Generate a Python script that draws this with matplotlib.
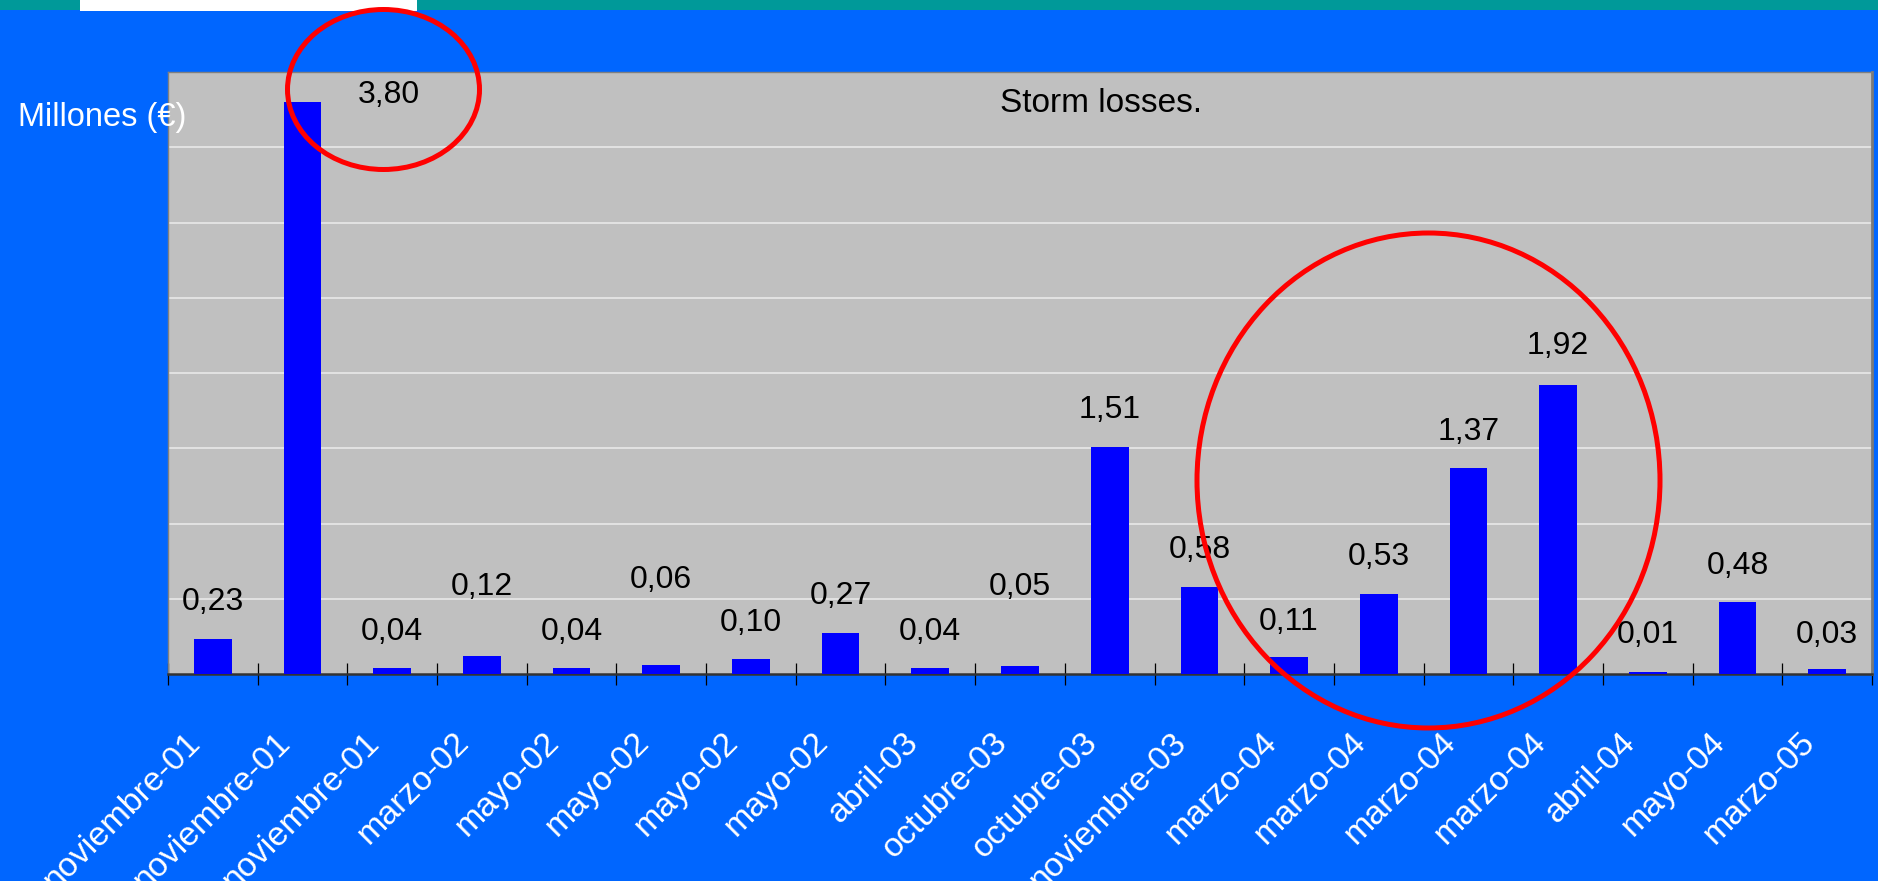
import matplotlib
matplotlib.use("Agg")
import matplotlib.pyplot as plt
import matplotlib.transforms as mtransforms
from matplotlib.patches import Ellipse, Rectangle

# storm losses per event, millions of euros
months = ["noviembre-01", "noviembre-01", "noviembre-01", "marzo-02", "mayo-02",
          "mayo-02", "mayo-02", "mayo-02", "abril-03", "octubre-03", "octubre-03",
          "noviembre-03", "marzo-04", "marzo-04", "marzo-04", "marzo-04",
          "abril-04", "mayo-04", "marzo-05"]
losses = [0.23, 3.80, 0.04, 0.12, 0.04, 0.06, 0.10, 0.27, 0.04, 0.05, 1.51,
          0.58, 0.11, 0.53, 1.37, 1.92, 0.01, 0.48, 0.03]

# where each value label sits (x in bar slots, y in data units)
label_x = [0, 1.96, 2, 3, 4, 5, 6, 7, 8, 9, 10, 11, 12, 13, 14, 15, 16, 17, 18]
label_y = [0.50, 3.87, 0.30, 0.60, 0.30, 0.645, 0.365, 0.54, 0.30, 0.60, 1.78,
           0.845, 0.37, 0.80, 1.63, 2.20, 0.283, 0.74, 0.283]

BG = "#0066FF"
plt.rcParams["font.family"] = ["Liberation Sans", "DejaVu Sans"]

W, H = 1878, 881
fig = plt.figure(figsize=(W / 100, H / 100), dpi=100, facecolor=BG)

ax = fig.add_axes([168 / W, 1 - 674 / H, 1704 / W, 602 / H])
ax.set_facecolor("#C0C0C0")

xs = list(range(len(losses)))
ax.bar(xs, losses, width=0.42, color="#0000FF", zorder=3)

for x, y, v in zip(label_x, label_y, losses):
    ax.text(x, y, f"{v:.2f}".replace(".", ","), ha="center",
            va="center_baseline", fontsize=23, color="black", zorder=4)

ax.set_xlim(-0.5, len(losses) - 0.5)
ax.set_ylim(0, 4.0)

# horizontal gridlines every 0.5
for g in [0.5, 1.0, 1.5, 2.0, 2.5, 3.0, 3.5]:
    ax.axhline(g, color="#E8E8E8", lw=1.2, zorder=1)

ax.set_yticks([])
ax.set_xticks([i - 0.5 for i in range(len(losses) + 1)])
ax.set_xticklabels([])
ax.set_xticks(xs, minor=True)
ax.set_xticklabels(months, minor=True, rotation=45, ha="right", va="top",
                   rotation_mode="anchor", fontsize=24.5, color="white")
ax.tick_params(axis="x", which="major", direction="inout", length=16,
               width=0.9, color="black")
ax.tick_params(axis="x", which="minor", length=0, pad=38)

shift = mtransforms.ScaledTranslation(-0.28, 0, fig.dpi_scale_trans)
for lab in ax.get_xticklabels(minor=True):
    lab.set_transform(lab.get_transform() + shift)

for side in ["top", "left"]:
    ax.spines[side].set_color("#808080")
    ax.spines[side].set_linewidth(1)
ax.spines["right"].set_color("#7A7A7A")
ax.spines["right"].set_linewidth(2)
ax.spines["bottom"].set_color("#333333")
ax.spines["bottom"].set_linewidth(1.8)

fig.text(18 / W, 1 - 126 / H, "Millones (€)", fontsize=23.5, color="white",
         ha="left", va="baseline")
fig.text(1101 / W, 1 - 112 / H, "Storm losses.", fontsize=24, color="black",
         ha="center", va="baseline")

# slide header strip and red highlight rings, in pixel space
over = fig.add_axes([0, 0, 1, 1])
over.set_xlim(0, W)
over.set_ylim(H, 0)
over.set_axis_off()
over.add_patch(Rectangle((0, 0), W, 10, color="#009999", lw=0))
over.add_patch(Rectangle((80, 0), 337, 11, color="white", lw=0))
over.add_patch(Ellipse((383.5, 89.5), 192, 160, fill=False, ec="#FF0000", lw=3.6))
over.add_patch(Ellipse((1428.5, 480.5), 463, 495, fill=False, ec="#FF0000", lw=3.6))

fig.savefig("out.png", dpi=100, facecolor=BG)
